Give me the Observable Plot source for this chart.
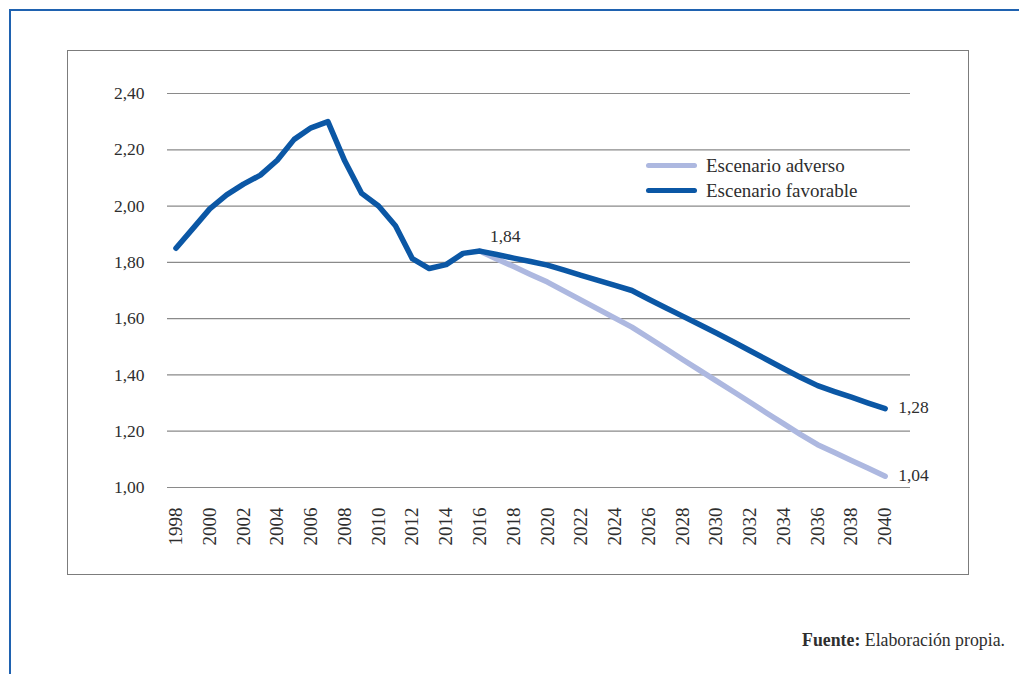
<!DOCTYPE html>
<html>
<head>
<meta charset="utf-8">
<script src="https://cdn.jsdelivr.net/npm/d3@7"></script>
<script src="https://cdn.jsdelivr.net/npm/@observablehq/plot@0.6"></script>
<style>
  html, body { margin: 0; padding: 0; background: #fff; }
  #page { position: relative; width: 1019px; height: 674px; overflow: hidden;
          font-family: "Liberation Serif", "DejaVu Serif", serif; color: #2e2e2e; }
  #rule-top { position: absolute; left: 9px; top: 9px; width: 1010px; height: 2px; background: #1f62b0; }
  #rule-left { position: absolute; left: 9px; top: 9px; width: 2px; height: 665px; background: #1f62b0; }
  #chart { position: absolute; left: 68px; top: 51px; }
  #box { position: absolute; left: 67px; top: 50px; width: 900px; height: 523px;
         border: 1.5px solid #7c7c7c; pointer-events: none; }
  #legend { position: absolute; left: 646px; top: 153px; font-size: 19px; line-height: 25px; }
  #legend .row { display: flex; align-items: center; height: 25px; }
  #legend .sw { width: 51px; height: 5.5px; border-radius: 3px; margin-right: 9px; }
  #caption { position: absolute; right: 14px; top: 629px; font-size: 17.8px; line-height: 22px; }
</style>
</head>
<body>
<div id="page">
  <div id="rule-top"></div>
  <div id="rule-left"></div>
  <div id="chart"></div>
  <div id="box"></div>
  <div id="legend"></div>
  <div id="caption"><b>Fuente:</b> Elaboración propia.</div>
</div>
<script>
// Historical series and favourable projection, 1998–2040
const yearsFavorable = [1998, 1999, 2000, 2001, 2002, 2003, 2004, 2005, 2006, 2007,
  2008, 2009, 2010, 2011, 2012, 2013, 2014, 2015, 2016, 2017, 2018, 2019, 2020,
  2021, 2022, 2023, 2024, 2025, 2026, 2027, 2028, 2029, 2030, 2031, 2032, 2033,
  2034, 2035, 2036, 2037, 2038, 2039, 2040];
const valuesFavorable = [1.85, 1.92, 1.99, 2.04, 2.078, 2.11, 2.163, 2.237, 2.278, 2.30,
  2.16, 2.045, 2.00, 1.93, 1.813, 1.778, 1.792, 1.832, 1.84, 1.828, 1.815, 1.803, 1.79,
  1.772, 1.754, 1.736, 1.718, 1.70, 1.669, 1.639, 1.609, 1.579, 1.549, 1.518, 1.486, 1.454,
  1.422, 1.391, 1.362, 1.341, 1.321, 1.30, 1.28];

// Adverse projection, branching off in 2016
const yearsAdverse = [2016, 2017, 2018, 2019, 2020, 2021, 2022, 2023, 2024, 2025,
  2026, 2027, 2028, 2029, 2030, 2031, 2032, 2033, 2034, 2035, 2036, 2037, 2038,
  2039, 2040];
const valuesAdverse = [1.84, 1.812, 1.785, 1.757, 1.73, 1.698, 1.666, 1.634, 1.602, 1.57,
  1.532, 1.494, 1.455, 1.417, 1.379, 1.341, 1.303, 1.264, 1.226, 1.188, 1.152, 1.124, 1.096,
  1.068, 1.04];

const seriesNames = ["Escenario adverso", "Escenario favorable"];
const seriesColors = ["#adb8e0", "#0b57a5"];

const yTicks = [1.0, 1.2, 1.4, 1.6, 1.8, 2.0, 2.2, 2.4];
const xTicks = [1998, 2000, 2002, 2004, 2006, 2008, 2010, 2012, 2014, 2016, 2018,
  2020, 2022, 2024, 2026, 2028, 2030, 2032, 2034, 2036, 2038, 2040];

// Annotated points: [series index, year]
const annotated = [[1, 2016], [1, 2040], [0, 2040]];

const favorable = yearsFavorable.map((year, i) => ({year, value: valuesFavorable[i]}));
const adverse = yearsAdverse.map((year, i) => ({year, value: valuesAdverse[i]}));
const bySeries = [adverse, favorable];

const comma = v => v.toFixed(2).replace(".", ",");

const labels = annotated.map(([s, yr]) => {
  const d = bySeries[s].find(p => p.year === yr);
  return {year: d.year, value: d.value, text: comma(d.value), endPoint: yr === 2040};
});

const lineStyle = {x: "year", y: "value", strokeWidth: 5.5,
  strokeLinecap: "round", strokeLinejoin: "round"};

const chart = Plot.plot({
  width: 900,
  height: 523,
  marginLeft: 99,
  marginRight: 58,
  marginTop: 42,
  marginBottom: 87,
  style: {fontFamily: '"Liberation Serif", "DejaVu Serif", serif', fontSize: "17.5px",
          color: "#2e2e2e", background: "transparent", overflow: "visible"},
  x: {type: "linear", domain: [1997.5, 2041.5]},
  y: {domain: [1, 2.4]},
  marks: [
    Plot.ruleY(yTicks, {stroke: "#8a8a8a", strokeWidth: 1.2}),
    Plot.axisY({ticks: yTicks, tickSize: 0, tickPadding: 23, tickFormat: comma,
                label: null, fill: "#2e2e2e"}),
    Plot.axisX({ticks: xTicks, tickFormat: d => String(d), tickRotate: -90,
                tickSize: 0, tickPadding: 20, label: null, fill: "#2e2e2e",
                fontSize: 19}),
    Plot.line(adverse, {...lineStyle, stroke: seriesColors[0]}),
    Plot.line(favorable, {...lineStyle, stroke: seriesColors[1]}),
    Plot.text(labels.filter(d => !d.endPoint), {x: "year", y: "value", text: "text",
      textAnchor: "start", dx: 10, dy: -15, fill: "#2e2e2e"}),
    Plot.text(labels.filter(d => d.endPoint), {x: "year", y: "value", text: "text",
      textAnchor: "start", dx: 13, dy: -1, fill: "#2e2e2e"})
  ]
});
document.getElementById("chart").appendChild(chart);

// Legend
const legend = document.getElementById("legend");
seriesNames.forEach((name, i) => {
  const row = document.createElement("div");
  row.className = "row";
  const sw = document.createElement("span");
  sw.className = "sw";
  sw.style.background = seriesColors[i];
  const label = document.createElement("span");
  label.textContent = name;
  row.appendChild(sw);
  row.appendChild(label);
  legend.appendChild(row);
});
</script>
</body>
</html>
